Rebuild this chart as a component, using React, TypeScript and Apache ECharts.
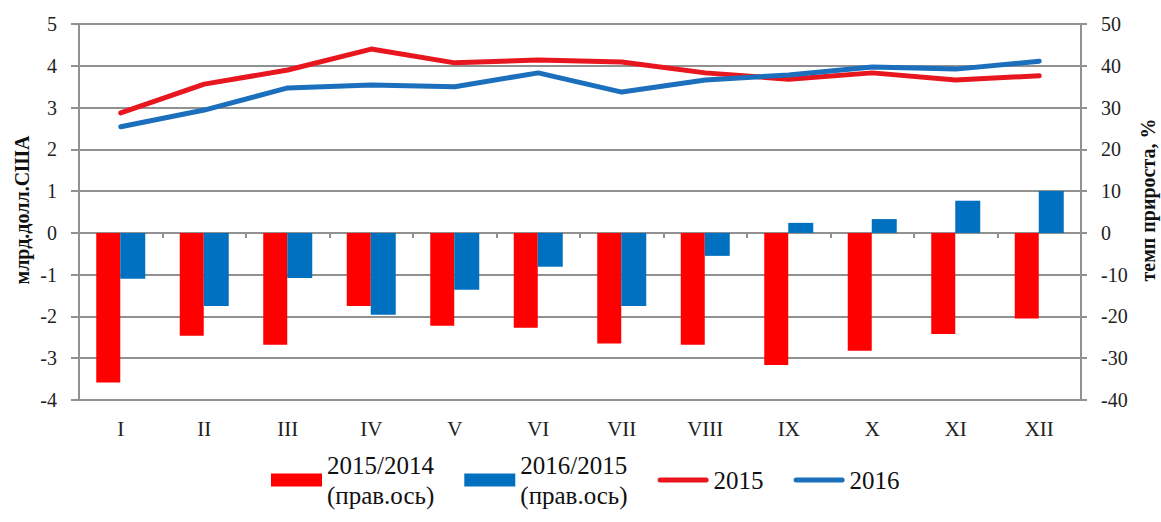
import React, { useEffect, useRef } from "react";
import * as echarts from "echarts";

const categories = ["I", "II", "III", "IV", "V", "VI", "VII", "VIII", "IX", "X", "XI", "XII"];
const growth2015to2014 = [-35.8, -24.6, -26.8, -17.5, -22.2, -22.7, -26.5, -26.8, -31.6, -28.2, -24.2, -20.5];
const growth2016to2015 = [-11.0, -17.5, -10.8, -19.6, -13.6, -8.1, -17.5, -5.5, 2.4, 3.3, 7.7, 10.0];
const values2015 = [2.87, 3.56, 3.9, 4.4, 4.07, 4.14, 4.09, 3.83, 3.68, 3.83, 3.66, 3.76];
const values2016 = [2.54, 2.94, 3.47, 3.54, 3.5, 3.83, 3.37, 3.66, 3.78, 3.97, 3.92, 4.11];

const leftAxisName = "млрд.долл.США";
const rightAxisName = "темп прироста, %";
const barName1 = "2015/2014\n(прав.ось)";
const barName2 = "2016/2015\n(прав.ось)";
const lineName1 = "2015";
const lineName2 = "2016";

const FONT = "'Liberation Serif', 'Times New Roman', serif";
const GRID = "#919191";
const RED = "#ff0000";
const BLUE = "#0070c0";
const RED_LINE = "#e8161e";
const BLUE_LINE = "#1b6fbc";
const LINE_ICON = "path://M2.5,0 L48.5,0 A2.5,2.5 0 0 1 48.5,5 L2.5,5 A2.5,2.5 0 0 1 2.5,0 Z";

export default function App() {
  const ref = useRef<HTMLDivElement>(null);
  useEffect(() => {
    if (!ref.current) return;
    const chart = echarts.init(ref.current, null, { renderer: "svg" });
    const axisLabel = { fontFamily: FONT, fontSize: 20, color: "#222" };
    chart.setOption({
      animation: false,
      backgroundColor: "#fff",
      grid: { left: 79, right: 80, top: 24, bottom: 122, containLabel: false },
      legend: {
        left: 271,
        top: 435,
        padding: 0,
        itemWidth: 51,
        itemHeight: 13,
        itemGap: 30,
        symbolKeepAspect: true,
        textStyle: { fontFamily: FONT, fontSize: 25, color: "#111", lineHeight: 30, padding: [30, 0, 0, 0] },
        data: [
          { name: barName1, icon: "rect" },
          { name: barName2, icon: "rect" },
          { name: lineName1, icon: LINE_ICON, textStyle: { padding: [30, 0, 30, 0] } },
          { name: lineName2, icon: LINE_ICON, textStyle: { padding: [30, 0, 30, 0] } },
        ],
      },
      xAxis: [
        {
          type: "category",
          data: categories,
          position: "bottom",
          axisLine: { show: false, onZero: false },
          axisTick: { show: false },
          axisLabel: { ...axisLabel, fontSize: 21, margin: 18 },
          splitLine: { show: false },
        },
        {
          type: "category",
          data: categories,
          position: "top",
          axisLine: { show: true, onZero: true, lineStyle: { color: GRID, width: 2 } },
          axisTick: { show: true, inside: true, length: 5, lineStyle: { color: GRID, width: 2 } },
          axisLabel: { show: false },
          splitLine: { show: false },
        },
      ],
      yAxis: [
        {
          type: "value",
          min: -4,
          max: 5,
          interval: 1,
          position: "left",
          axisLine: { show: true, lineStyle: { color: GRID, width: 2 } },
          axisTick: { show: true, length: 8, lineStyle: { color: GRID, width: 2 } },
          axisLabel: { ...axisLabel, margin: 22 },
          splitLine: { show: true, lineStyle: { color: GRID, width: 2 } },
        },
        {
          type: "value",
          min: -40,
          max: 50,
          interval: 10,
          position: "right",
          axisLine: { show: true, lineStyle: { color: GRID, width: 2 } },
          axisTick: { show: true, length: 6, lineStyle: { color: GRID, width: 2 } },
          axisLabel: { ...axisLabel, margin: 20 },
          splitLine: { show: false },
        },
      ],
      series: [
        {
          name: barName1,
          type: "bar",
          xAxisIndex: 0,
          yAxisIndex: 1,
          data: growth2015to2014,
          barWidth: 24,
          barGap: "0%",
          itemStyle: { color: RED },
        },
        {
          name: barName2,
          type: "bar",
          xAxisIndex: 0,
          yAxisIndex: 1,
          data: growth2016to2015,
          barWidth: 25,
          barGap: "0%",
          itemStyle: { color: BLUE },
        },
        {
          name: lineName1,
          type: "line",
          xAxisIndex: 0,
          yAxisIndex: 0,
          data: values2015,
          symbol: "none",
          z: 5,
          itemStyle: { color: RED_LINE },
          lineStyle: { color: RED_LINE, width: 5, cap: "round", join: "round" },
        },
        {
          name: lineName2,
          type: "line",
          xAxisIndex: 0,
          yAxisIndex: 0,
          data: values2016,
          symbol: "none",
          z: 5,
          itemStyle: { color: BLUE_LINE },
          lineStyle: { color: BLUE_LINE, width: 5, cap: "round", join: "round" },
        },
      ],
      graphic: [
        {
          type: "text",
          x: 22,
          y: 210,
          rotation: Math.PI / 2,
          style: {
            text: leftAxisName,
            fontFamily: FONT,
            fontSize: 20,
            fontWeight: "bold",
            fill: "#111",
            align: "center",
            verticalAlign: "middle",
          },
        },
        {
          type: "text",
          x: 1148,
          y: 200,
          rotation: Math.PI / 2,
          style: {
            text: rightAxisName,
            fontFamily: FONT,
            fontSize: 20,
            fontWeight: "bold",
            fill: "#111",
            align: "center",
            verticalAlign: "middle",
          },
        },
      ],
    });
    return () => chart.dispose();
  }, []);
  return (
    <div
      ref={ref}
      style={{ position: "fixed", left: 0, top: 0, width: 1161, height: 522, background: "#fff" }}
    />
  );
}
